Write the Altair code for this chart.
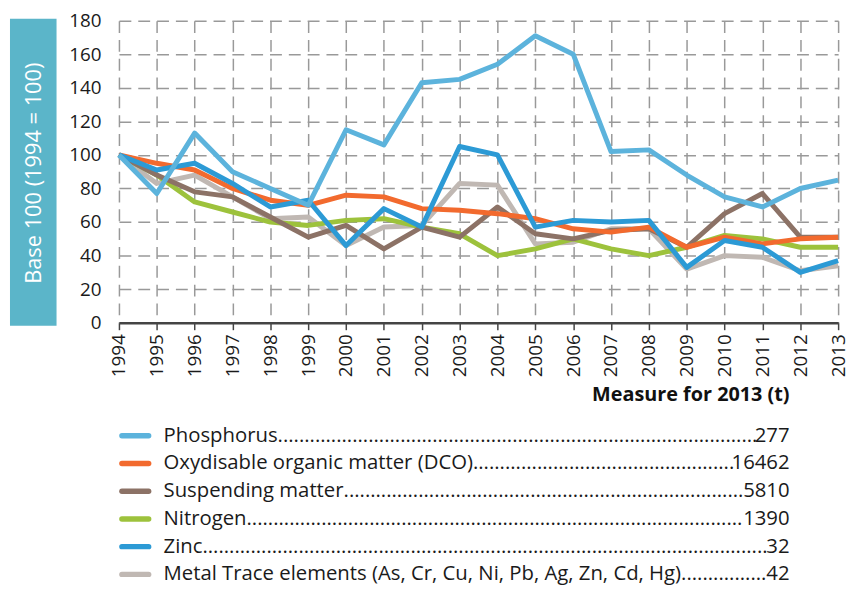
import altair as alt
import pandas as pd

years = list(range(1994, 2014))

series_names = [
    "Phosphorus",
    "Oxydisable organic matter (DCO)",
    "Suspending matter",
    "Nitrogen",
    "Zinc",
    "Metal Trace elements (As, Cr, Cu, Ni, Pb, Ag, Zn, Cd, Hg)",
]
measures_2013 = ["277", "16462", "5810", "1390", "32", "42"]
colors = ["#5CB3DC", "#F26A2E", "#8C7266", "#9DC23C", "#2C9AD5", "#C0B8B3"]
leader_dots = [90, 49, 75, 93, 106, 16]

phosphorus = [100, 77, 113, 90, 80, 70, 115, 106, 143, 145, 154, 171, 160, 102, 103, 88, 75, 69, 80, 85]
dco = [100, 95, 91, 80, 73, 70, 76, 75, 68, 67, 65, 62, 56, 54, 57, 45, 51, 47, 50, 51]
suspending = [100, 88, 78, 75, 63, 51, 58, 44, 57, 51, 69, 53, 50, 55, 56, 45, 65, 77, 51, 51]
nitrogen = [100, 88, 72, 66, 60, 58, 61, 62, 57, 53, 40, 44, 50, 44, 40, 45, 52, 50, 45, 45]
zinc = [100, 91, 95, 83, 69, 73, 46, 68, 57, 105, 100, 57, 61, 60, 61, 33, 49, 45, 30, 37]
metals = [100, 83, 88, 75, 62, 63, 46, 57, 58, 83, 82, 47, 48, 56, 56, 32, 40, 39, 31, 34]

all_values = [phosphorus, dco, suspending, nitrogen, zinc, metals]
# z-order for drawing (first drawn at bottom)
draw_order = [5, 3, 2, 1, 4, 0]

rows = []
for i in draw_order:
    for y, v in zip(years, all_values[i]):
        rows.append({"year": y, "value": v, "series": series_names[i], "ord": draw_order.index(i)})
df = pd.DataFrame(rows)

color_scale = alt.Scale(domain=series_names, range=colors)
FONT = "Open Sans"
TXT = "#1a1a1a"

lines = alt.Chart(df).mark_line(strokeWidth=5, strokeJoin="round", strokeCap="butt").encode(
    x=alt.X("year:Q", scale=alt.Scale(domain=[1994, 2013], nice=False, zero=False),
            axis=alt.Axis(values=years, format="d", title=None, labelAngle=270,
                          labelAlign="right", labelBaseline="middle", labelPadding=4,
                          labelFontSize=19, labelColor=TXT, labelFont=FONT,
                          grid=True, gridColor="#999999", gridDash=[12, 7], gridWidth=1.5,
                          domainColor="#444", domainWidth=2.5, tickColor="#444",
                          tickWidth=1.5, tickSize=7, labelFlush=False)),
    y=alt.Y("value:Q", scale=alt.Scale(domain=[0, 180], nice=False),
            axis=alt.Axis(values=list(range(0, 181, 20)), title=None, labelFontSize=19,
                          labelColor=TXT, labelFont=FONT, labelPadding=18,
                          ticks=False, domain=False,
                          grid=True, gridColor="#999999", gridDash=[12, 7], gridWidth=1.5)),
    color=alt.Color("series:N", scale=color_scale, legend=None),
    order=alt.Order("ord:Q"),
    detail="series:N",
)

layers = [lines]

one = pd.DataFrame({"a": [0]})

# y-axis title box
box = alt.Chart(one).mark_rect(color="#5BB5C9").encode(
    x=alt.value(-110), x2=alt.value(-63), y=alt.value(-2), y2=alt.value(308)
)
box_text = alt.Chart(pd.DataFrame({"t": ["Base 100 (1994 = 100)"]})).mark_text(
    angle=270, color="white", fontSize=22, font=FONT, align="center", baseline="middle"
).encode(text="t:N", x=alt.value(-86), y=alt.value(154))
layers += [box, box_text]

measure_title = alt.Chart(pd.DataFrame({"t": ["Measure for 2013 (t)"]})).mark_text(
    fontSize=20, fontWeight="bold", font=FONT, align="right", baseline="middle", color="#111"
).encode(text="t:N", x=alt.value(677), y=alt.value(378))
layers.append(measure_title)

X_NAME = 45
X_NUM = 677
LFS = 20.5
for k, name in enumerate(series_names):
    yk = 419 + k * 28
    sw = alt.Chart(pd.DataFrame({"series": [name]})).mark_rule(strokeWidth=5.5, strokeCap="round").encode(
        x=alt.value(3), x2=alt.value(30), y=alt.value(yk),
        color=alt.Color("series:N", scale=color_scale, legend=None),
    )
    name_df = pd.DataFrame({"t": [name + "." * leader_dots[k]]})
    num_df = pd.DataFrame({"t": [measures_2013[k]]})
    name_txt = alt.Chart(name_df).mark_text(
        fontSize=LFS, font=FONT, align="left", baseline="middle", color=TXT
    ).encode(text="t:N", x=alt.value(X_NAME), y=alt.value(yk))
    num_txt = alt.Chart(num_df).mark_text(
        fontSize=LFS, font=FONT, align="right", baseline="middle", color=TXT
    ).encode(text="t:N", x=alt.value(X_NUM), y=alt.value(yk))
    layers += [sw, name_txt, num_txt]

chart = alt.layer(*layers).properties(
    width=726, height=305,
    autosize=alt.AutoSizeParams(type="none"),
    padding={"left": 112, "top": 10, "right": 13, "bottom": 266},
).configure_view(stroke=None)

chart.save("out.html", embed_options={"renderer": "svg", "actions": False})
